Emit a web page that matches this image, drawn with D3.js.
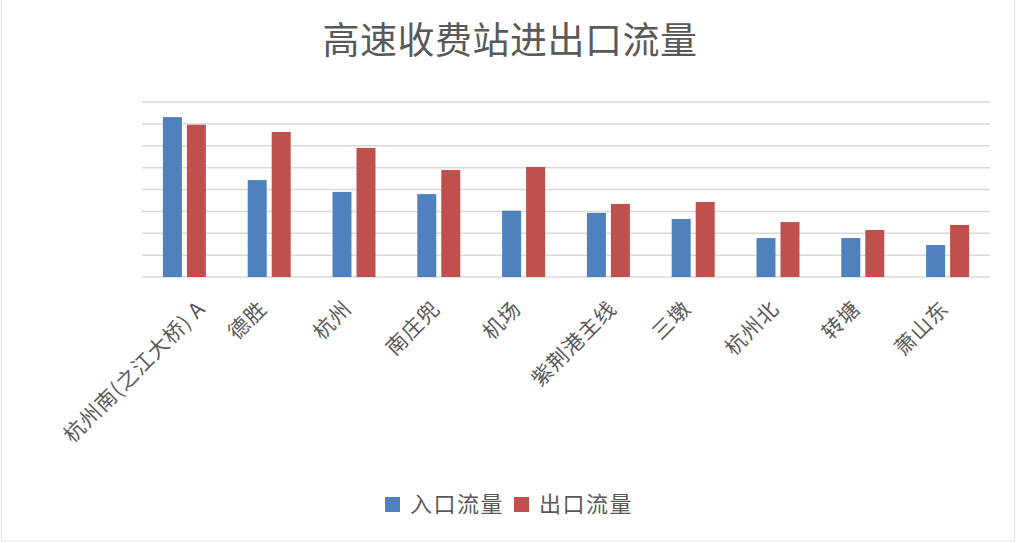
<!DOCTYPE html>
<html><head><meta charset="utf-8">
<script src="https://cdn.jsdelivr.net/npm/d3@7"></script>
<style>body{margin:0;background:#fff}svg{display:block}</style>
</head><body>
<svg id="chart" width="1017" height="543"></svg>
<script>
const categories = ["杭州南(之江大桥) A","德胜","杭州","南庄兜","机场","紫荆港主线","三墩","杭州北","转塘","萧山东"];
const inflow  = [7.31, 4.43, 3.89, 3.79, 3.03, 2.93, 2.65, 1.78, 1.78, 1.46];
const outflow = [6.96, 6.63, 5.90, 4.89, 5.03, 3.34, 3.43, 2.51, 2.15, 2.38];
const seriesNames = ["入口流量","出口流量"];
const gridTicks = [0,1,2,3,4,5,6,7,8];
const title = "高速收费站进出口流量";

(function(){
const svg = d3.select("#chart");
const font = "'Noto Sans CJK SC', sans-serif";
const colors = ["#4f81bd", "#c0504d"];
const textColor = "#595959";

svg.append("rect").attr("x",1.5).attr("y",-2).attr("width",1013).attr("height",543).attr("fill","#fff").attr("stroke","#e3e3e3");

const pLeft = 142, pRight = 990, pTop = 102, pBottom = 277;
const x = d3.scaleBand().domain(categories).range([pLeft, pRight]);
const y = d3.scaleLinear().domain([0, 8]).range([pBottom, pTop]);
const barW = 19;

svg.append("g").selectAll("line").data(gridTicks).join("line")
  .attr("x1", pLeft).attr("x2", pRight)
  .attr("y1", d => y(d)).attr("y2", d => y(d))
  .attr("stroke", "#d9d9d9").attr("stroke-width", 1.5);

const data = categories.map((c,i)=>({c, vals:[inflow[i], outflow[i]]}));
const g = svg.append("g").selectAll("g").data(data).join("g")
  .attr("transform", d => `translate(${x(d.c) + x.bandwidth()/2},0)`);
g.selectAll("rect").data(d => d.vals.map((v,j)=>({v, j}))).join("rect")
  .attr("x", d => d.j === 0 ? -21.5 : 2.5)
  .attr("width", barW)
  .attr("y", d => y(d.v))
  .attr("height", d => y(0) - y(d.v))
  .attr("fill", d => colors[d.j]);

const labels = svg.append("g").selectAll("text").data(categories).join("text")
  .attr("text-anchor", "end")
  .attr("font-family", font).attr("font-size", 21).attr("letter-spacing", 1)
  .attr("fill", textColor)
  .text(d => d);
labels.each(function(d){
  const L = this.getComputedTextLength();
  const off = 0.16 * (L - 44);
  const cx = x(d) + x.bandwidth()/2 + off - 1;
  d3.select(this).attr("transform", `translate(${cx},${pBottom + 33}) rotate(-45)`);
});

svg.append("text").attr("x", 510).attr("y", 54).attr("text-anchor","middle")
  .attr("font-family", font).attr("font-size", 37).attr("letter-spacing", 0.5)
  .attr("fill", textColor).text(title);

const legendItems = [{x:385, name:seriesNames[0], c:colors[0]},{x:514, name:seriesNames[1], c:colors[1]}];
const lg = svg.append("g").selectAll("g").data(legendItems).join("g")
  .attr("transform", d => `translate(${d.x},497)`);
lg.append("rect").attr("width",15).attr("height",15).attr("fill", d=>d.c);
lg.append("text").attr("x", 25).attr("y", 15)
  .attr("font-family", font).attr("font-size", 22).attr("letter-spacing", 1.5)
  .attr("fill", textColor).text(d=>d.name);
})();
</script>
</body></html>
